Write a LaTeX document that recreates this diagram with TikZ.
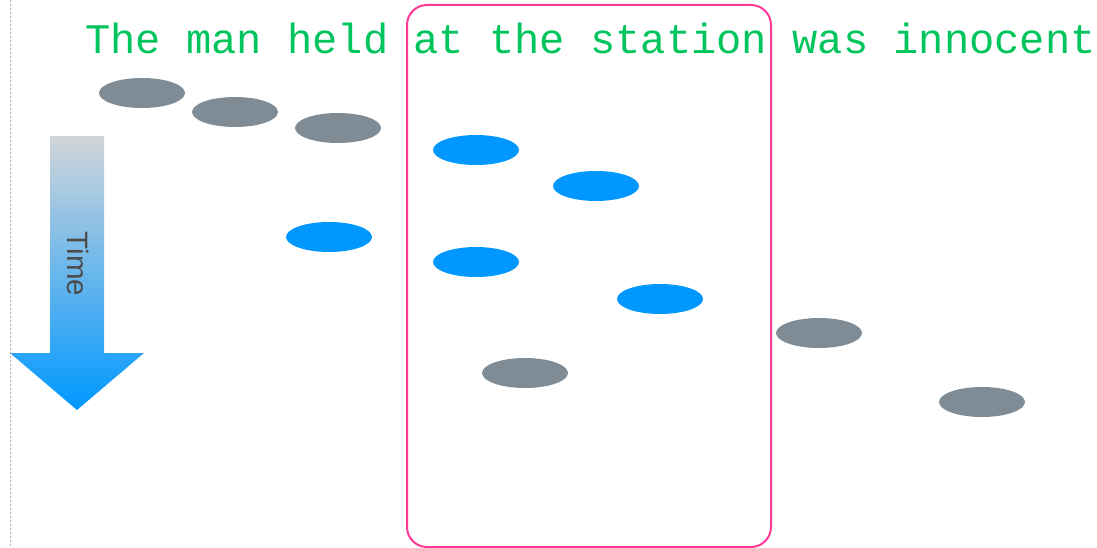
\documentclass[tikz,border=0pt]{standalone}
\usepackage{fontspec}
\newfontfamily\wordfont{Liberation Mono}
\newfontfamily\labelfont{Liberation Sans}
\usetikzlibrary{shapes.geometric,positioning}
\definecolor{wordgreen}{RGB}{0,196,92}
\definecolor{boxpink}{RGB}{255,58,150}
\definecolor{tokgrey}{RGB}{127,140,150}
\definecolor{tokblue}{RGB}{0,152,255}
\definecolor{arrowtop}{RGB}{210,213,217}
\tikzset{
  token/.style={ellipse, minimum width=86pt, minimum height=30pt, inner sep=0pt},
  greytok/.style={token, fill=tokgrey},
  bluetok/.style={token, fill=tokblue},
  sentence/.style={font=\wordfont\fontsize{42.1}{50}\selectfont, text=wordgreen, inner sep=0pt, anchor=base west},
  window/.style={draw=boxpink, line width=2pt, rounded corners=20pt},
  timearrow/.style={top color=arrowtop, bottom color=tokblue, draw=none},
  timelabel/.style={font=\labelfont\fontsize{29.5}{32}\selectfont, text=black!70, rotate=-90}
}
\begin{document}
\begin{tikzpicture}[x=1pt,y=-1pt]
  \useasboundingbox (0,0) rectangle (1097,548);
  \draw[black!30, dashed, dash pattern=on 2pt off 2pt] (10,0) -- (10,548);
  \node[sentence] (words) at (85,53.5) {The man held at the station was innocent};
  \draw[window] (407,5) rectangle (771,547);
  % time arrow
  \shade[timearrow] (50,136) -- (104,136) -- (104,353) -- (144,353) -- (77,410) -- (10,353) -- (50,353) -- cycle;
  \node[timelabel] (time) at (78,264) {Time};
  % tokens outside the window
  \foreach \x/\y [count=\i] in {142/93,235/112,338/128,525/373,819/333,982/402}
    \node[greytok] (grey\i) at (\x,\y) {};
  % tokens for the window
  \foreach \x/\y [count=\i] in {329/237,476/150,596/186,476/262,660/299}
    \node[bluetok] (blue\i) at (\x,\y) {};
\end{tikzpicture}
\end{document}
